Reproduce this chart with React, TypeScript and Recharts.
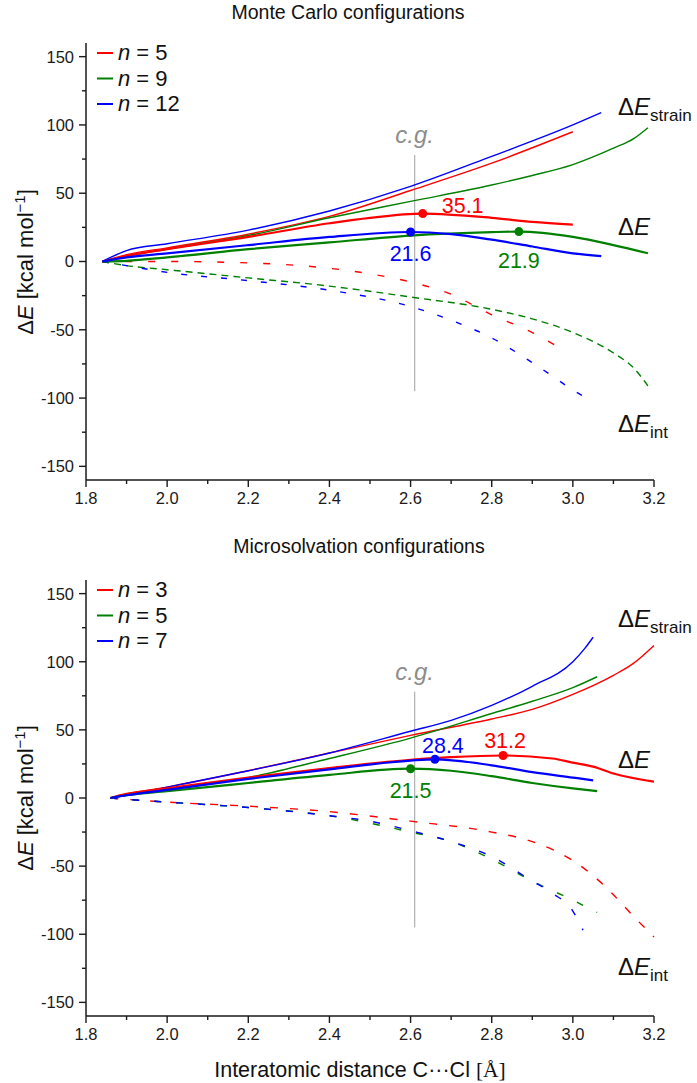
import React from 'react';
import { LineChart, Line, XAxis, YAxis, ReferenceLine, ReferenceDot } from 'recharts';

type Pt = [number, number];

// ---- Monte Carlo configurations (n = 5, 9, 12) ----
const mcN = [5, 9, 12];
const mcStrain5: Pt[] = [[1.84, 0], [1.9, 5], [2.0, 10], [2.2, 20], [2.4, 33], [2.6, 52], [2.8, 72], [3.0, 95]];
const mcStrain9: Pt[] = [[1.84, 0], [1.9, 4], [2.0, 9], [2.2, 19], [2.4, 32], [2.6, 44], [2.8, 56], [2.9, 63], [3.0, 71], [3.1, 83], [3.15, 90], [3.185, 98]];
const mcStrain12: Pt[] = [[1.84, 0], [1.9, 8], [2.0, 13], [2.2, 23], [2.4, 37], [2.6, 55], [2.8, 77], [3.0, 100], [3.07, 109]];
const mcDE5: Pt[] = [[1.84, 0], [1.9, 4], [2.0, 9], [2.2, 18], [2.4, 28], [2.5, 32], [2.63, 35.1], [2.8, 32], [2.9, 29], [3.0, 27]];
const mcDE9: Pt[] = [[1.84, 0], [1.9, 0.5], [2.0, 3], [2.2, 9], [2.4, 14], [2.6, 19], [2.8, 21.5], [2.867, 21.9], [3.0, 18], [3.1, 12], [3.185, 6]];
const mcDE12: Pt[] = [[1.84, 0], [1.9, 3], [2.0, 6], [2.2, 12], [2.4, 18], [2.6, 21.6], [2.7, 20], [2.8, 16], [2.9, 11], [3.0, 6], [3.07, 4]];
const mcInt5: Pt[] = [[1.84, 0], [2.0, 0], [2.2, -1], [2.4, -5], [2.5, -9], [2.6, -15], [2.7, -24], [2.8, -39], [2.9, -52], [2.96, -62]];
const mcInt9: Pt[] = [[1.84, 0], [1.9, -3], [2.0, -6], [2.2, -12], [2.4, -18], [2.6, -26], [2.8, -35], [2.9, -42], [3.0, -52], [3.1, -67], [3.15, -78], [3.185, -91]];
const mcInt12: Pt[] = [[1.84, 0], [1.9, -3], [2.0, -8], [2.2, -14], [2.4, -21], [2.6, -33], [2.7, -43], [2.8, -56], [2.9, -74], [3.0, -94], [3.05, -103]];
const mcPeakX = [2.63, 2.867, 2.6];
const mcPeakY = [35.1, 21.9, 21.6];

// ---- Microsolvation configurations (n = 3, 5, 7) ----
const msN = [3, 5, 7];
const msStrain3: Pt[] = [[1.86, 0], [1.9, 3], [2.0, 8], [2.2, 20], [2.4, 33], [2.6, 46], [2.8, 58], [2.9, 65], [3.0, 76], [3.1, 90], [3.15, 99], [3.2, 112]];
const msStrain5: Pt[] = [[1.86, 0], [1.9, 2], [2.0, 6], [2.2, 15], [2.4, 29], [2.6, 44], [2.8, 62], [2.9, 71], [3.0, 81], [3.06, 89]];
const msStrain7: Pt[] = [[1.86, 0], [1.9, 2], [2.0, 8], [2.2, 20], [2.4, 33], [2.6, 49], [2.7, 57], [2.8, 68], [2.9, 82], [3.0, 100], [3.03, 110], [3.05, 118]];
const msDE3: Pt[] = [[1.86, 0], [1.9, 3], [2.0, 7], [2.2, 15], [2.4, 22], [2.6, 28], [2.7, 30], [2.828, 31.2], [2.95, 29], [3.0, 26], [3.05, 23], [3.1, 18], [3.2, 12]];
const msDE5: Pt[] = [[1.86, 0], [1.9, 2], [2.0, 5], [2.2, 11], [2.4, 17], [2.6, 21.5], [2.7, 20], [2.8, 16], [2.9, 11], [3.0, 7], [3.06, 5]];
const msDE7: Pt[] = [[1.86, 0], [1.9, 2], [2.0, 6], [2.2, 14], [2.4, 21], [2.6, 27.5], [2.66, 28.4], [2.8, 24], [2.9, 19], [3.0, 15], [3.05, 13]];
const msInt3: Pt[] = [[1.86, 0], [1.9, -1], [2.0, -3], [2.2, -6], [2.4, -10], [2.6, -17], [2.8, -25], [2.9, -32], [3.0, -46], [3.05, -57], [3.1, -71], [3.15, -87], [3.2, -102]];
const msInt5: Pt[] = [[1.86, 0], [1.9, -1], [2.0, -3], [2.2, -7], [2.4, -13], [2.6, -25], [2.7, -32], [2.8, -45], [2.9, -61], [3.0, -75], [3.06, -84]];
const msInt7: Pt[] = [[1.86, 0], [1.9, -1], [2.0, -3], [2.2, -7], [2.4, -13], [2.5, -17], [2.6, -24], [2.7, -32], [2.8, -43], [2.9, -61], [2.95, -70], [3.0, -83], [3.025, -97]];
const msPeakX = [2.828, 2.6, 2.66];
const msPeakY = [31.2, 21.5, 28.4];

// axes
const xTicks = [1.8, 1.9, 2.0, 2.1, 2.2, 2.3, 2.4, 2.5, 2.6, 2.7, 2.8, 2.9, 3.0, 3.1, 3.2];
const yTicks = [-150, -125, -100, -75, -50, -25, 0, 25, 50, 75, 100, 125, 150];
const cgX = 2.61;
const cgRange = [-95, 78];

const COLORS = ['#ff0000', '#008000', '#0000ff'];
const AXIS = '#1a1a1a';
const FONT = 'Arial, "Liberation Sans", Helvetica, sans-serif';
const TICK_MAJOR = 7;
const TICK_MINOR = 4;
const TICK_GAP = 5;

const xy = (pts: Pt[]) => pts.map(([x, y]) => ({ x, y }));

const XTick = (props: any) => {
  const { x, y, payload } = props;
  const v = payload.value as number;
  const major = Math.round(v * 10) % 2 === 0;
  const y0 = y - TICK_MAJOR - TICK_GAP;
  return (
    <g>
      <line x1={x} x2={x} y1={y0} y2={y0 + (major ? TICK_MAJOR : TICK_MINOR)} stroke={AXIS} strokeWidth={1.4} />
      {major && (
        <text x={x} y={y} dy="0.75em" textAnchor="middle" fontSize={16.5} fill={AXIS} fontFamily={FONT}>
          {v.toFixed(1)}
        </text>
      )}
    </g>
  );
};

const YTick = (props: any) => {
  const { x, y, payload } = props;
  const v = payload.value as number;
  const major = v % 50 === 0;
  const x0 = x + TICK_MAJOR + TICK_GAP;
  return (
    <g>
      <line x1={x0 - (major ? TICK_MAJOR : TICK_MINOR)} x2={x0} y1={y} y2={y} stroke={AXIS} strokeWidth={1.4} />
      {major && (
        <text x={x} y={y} dy="0.36em" textAnchor="end" fontSize={16.5} fill={AXIS} fontFamily={FONT}>
          {v}
        </text>
      )}
    </g>
  );
};

interface PanelProps {
  height: number;
  margin: { top: number; right: number; bottom: number; left: number };
  title: string;
  titleX: number;
  titleY: number;
  ns: number[];
  strain: Pt[][];
  de: Pt[][];
  int: Pt[][];
  dashes: string[];
  peakX: number[];
  peakY: number[];
  peakOffsets: [number, number, 'start' | 'middle'][];
  legendY: number;
  tagY: [number, number, number];
  yLabelY: number;
  xLabel?: boolean;
}

const Panel: React.FC<PanelProps> = (p) => {
  const legendRows = p.ns.map((n, i) => (
    <g key={`lg-${n}`}>
      <line x1={97} x2={113} y1={p.legendY + i * 25.5} y2={p.legendY + i * 25.5} stroke={COLORS[i]} strokeWidth={2} />
      <text x={118} y={p.legendY + i * 25.5 + 7} fontSize={22} fill="#111" fontFamily={FONT}>
        <tspan fontStyle="italic">n</tspan> = {n}
      </text>
    </g>
  ));

  const dE = (sub: string | null, y: number) => (
    <text x={618} y={y} fontSize={24} fill="#111" fontFamily={FONT}>
      {'\u0394'}
      <tspan fontStyle="italic">E</tspan>
      {sub && (
        <tspan fontSize={17} dy={6}>
          {sub}
        </tspan>
      )}
    </text>
  );

  return (
    <LineChart width={697} height={p.height} margin={p.margin}>
      <XAxis
        dataKey="x"
        type="number"
        domain={[1.8, 3.2]}
        ticks={xTicks}
        interval={0}
        height={30}
        tickSize={TICK_MAJOR}
        tickMargin={TICK_GAP}
        tickLine={false}
        axisLine={{ stroke: AXIS, strokeWidth: 1.5 }}
        tick={<XTick />}
        allowDuplicatedCategory={false}
      />
      <YAxis
        type="number"
        domain={[-160, 160]}
        ticks={yTicks}
        interval={0}
        width={86}
        tickSize={TICK_MAJOR}
        tickMargin={TICK_GAP}
        tickLine={false}
        axisLine={{ stroke: AXIS, strokeWidth: 1.5 }}
        tick={<YTick />}
      />
      <ReferenceLine
        segment={[{ x: cgX, y: cgRange[0] }, { x: cgX, y: cgRange[1] }]}
        stroke="#b4b4b4"
        strokeWidth={1.3}
      />
      <ReferenceDot
        x={cgX}
        y={cgRange[1]}
        r={0}
        shape={(s: any) => (
          <text x={s.cx} y={s.cy - 12} textAnchor="middle" fontSize={24} fontStyle="italic" fill="#8c8c8c" fontFamily={FONT}>
            c.g.
          </text>
        )}
      />
      {p.int.map((d, i) => (
        <Line key={`int-${i}`} data={xy(d)} dataKey="y" type="monotone" stroke={COLORS[i]} strokeWidth={1.4}
          strokeDasharray={p.dashes[i]} dot={false} activeDot={false} isAnimationActive={false} />
      ))}
      {p.strain.map((d, i) => (
        <Line key={`st-${i}`} data={xy(d)} dataKey="y" type="monotone" stroke={COLORS[i]} strokeWidth={1.4}
          dot={false} activeDot={false} isAnimationActive={false} />
      ))}
      {p.de.map((d, i) => (
        <Line key={`de-${i}`} data={xy(d)} dataKey="y" type="monotone" stroke={COLORS[i]} strokeWidth={2.2}
          dot={false} activeDot={false} isAnimationActive={false} />
      ))}
      {p.peakX.map((px, i) => (
        <ReferenceDot
          key={`pk-${i}`}
          x={px}
          y={p.peakY[i]}
          r={4.5}
          shape={(s: any) => (
            <g>
              <circle cx={s.cx} cy={s.cy} r={4.5} fill={COLORS[i]} />
              <text x={s.cx + p.peakOffsets[i][0]} y={s.cy + p.peakOffsets[i][1]} textAnchor={p.peakOffsets[i][2]}
                fontSize={21.5} fill={COLORS[i]} fontFamily={FONT}>
                {p.peakY[i].toFixed(1)}
              </text>
            </g>
          )}
        />
      ))}
      <g>
        <text x={p.titleX} y={p.titleY} textAnchor="middle" fontSize={19.5} fill="#111" fontFamily={FONT}>
          {p.title}
        </text>
        {legendRows}
        {dE('strain', p.tagY[0])}
        {dE(null, p.tagY[1])}
        {dE('int', p.tagY[2])}
        <text x={33} y={p.yLabelY} transform={`rotate(-90, 33, ${p.yLabelY})`} textAnchor="middle" fontSize={22} fill="#111" fontFamily={FONT}>
          {'\u0394'}
          <tspan fontStyle="italic">E</tspan> [kcal mol
          <tspan fontSize={15} dy={-8}>{'\u22121'}</tspan>
          <tspan dy={8}>]</tspan>
        </text>
        {p.xLabel && (
          <text x={360} y={p.height - 6} textAnchor="middle" fontSize={21.5} fill="#111" fontFamily={FONT}>
            Interatomic distance C{'\u00b7\u00b7\u00b7'}Cl <tspan fontFamily='"Liberation Serif", "Times New Roman", serif'>[{'\u00c5'}]</tspan>
          </text>
        )}
      </g>
    </LineChart>
  );
};

export default function App() {
  return (
    <div style={{ position: 'absolute', left: 0, top: 0, width: 697, height: 1083, background: '#fff' }}>
      <Panel
        height={530}
        margin={{ top: 43, right: 43, bottom: 20, left: 0 }}
        title="Monte Carlo configurations"
        titleX={348}
        titleY={19}
        ns={mcN}
        strain={[mcStrain5, mcStrain9, mcStrain12]}
        de={[mcDE5, mcDE9, mcDE12]}
        int={[mcInt5, mcInt9, mcInt12]}
        dashes={['7 16', '7 5', '6 14']}
        peakX={mcPeakX}
        peakY={mcPeakY}
        peakOffsets={[[19, -1, 'start'], [0, 36, 'middle'], [0, 29, 'middle']]}
        legendY={53}
        tagY={[115, 235, 432]}
        yLabelY={262}
      />
      <Panel
        height={553}
        margin={{ top: 50, right: 43, bottom: 37, left: 0 }}
        title="Microsolvation configurations"
        titleX={359}
        titleY={23}
        ns={msN}
        strain={[msStrain3, msStrain5, msStrain7]}
        de={[msDE3, msDE5, msDE7]}
        int={[msInt3, msInt5, msInt7]}
        dashes={['8 12', '7 15', '7 15']}
        peakX={msPeakX}
        peakY={msPeakY}
        peakOffsets={[[2, -7, 'middle'], [0, 29, 'middle'], [8, -6, 'middle']]}
        legendY={60}
        tagY={[97, 238, 445]}
        yLabelY={268}
        xLabel
      />
    </div>
  );
}
